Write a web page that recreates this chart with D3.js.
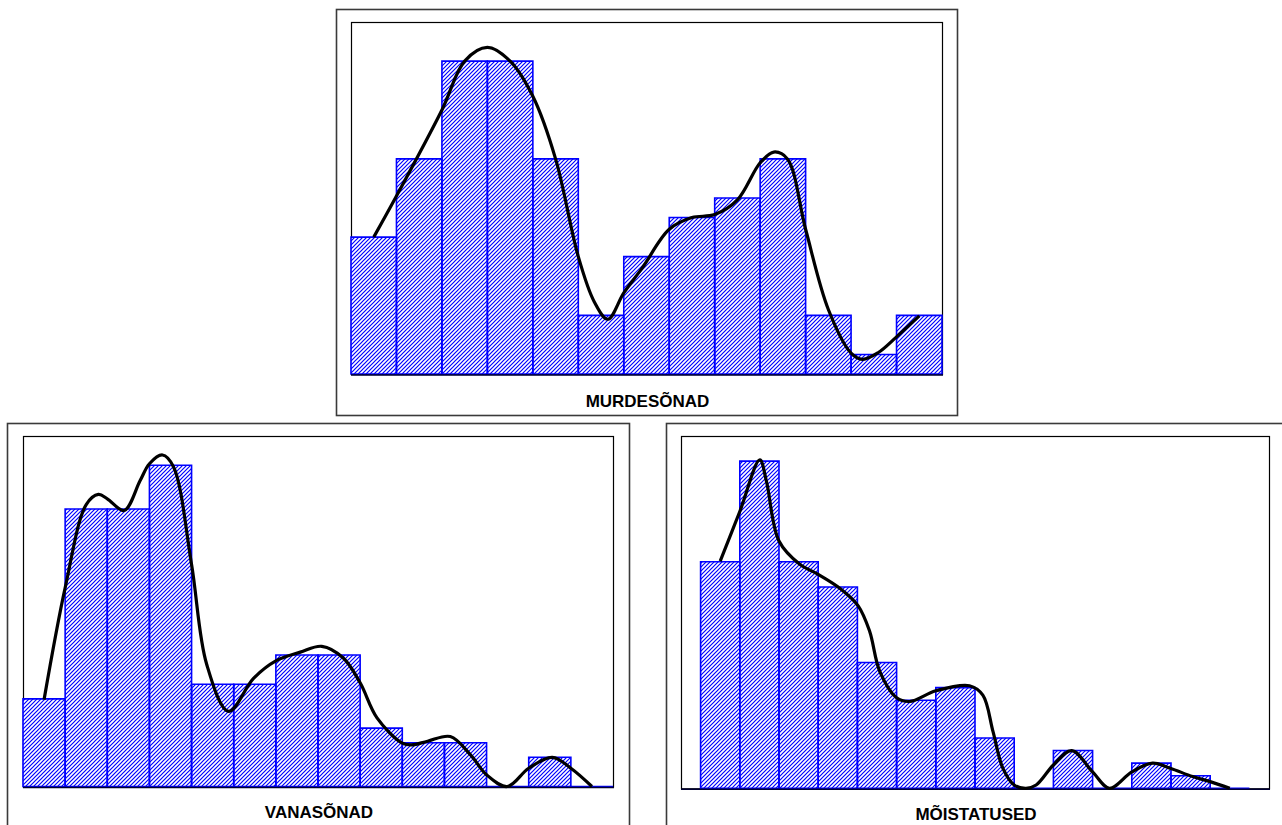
<!DOCTYPE html>
<html>
<head>
<meta charset="utf-8">
<script src="https://cdn.jsdelivr.net/npm/d3@7"></script>
<style>
  html, body { margin: 0; padding: 0; background: #fff; }
  svg { display: block; }
</style>
</head>
<body>
<svg id="chart" width="1282" height="825"></svg>
<script>
// ---------- DATA ----------
// MURDESÕNAD: 13 bins
const murdeCounts = [7, 11, 16, 16, 11, 3, 6, 8, 9, 11, 3, 1, 3];
const murdeCurveX = [0.5, 1.0, 2.0, 2.5, 3.0, 3.5, 4.0, 4.5, 5.0, 5.35, 5.65, 6.0, 6.4, 7.0, 7.5, 8.0, 8.5, 9.0, 9.3, 9.6, 10.0, 10.5, 11.0, 11.25, 11.6, 12.0, 12.5];
const murdeCurveY = [7.0, 9.1, 13.5, 16.0, 16.7, 16.0, 14.2, 11.0, 6.0, 3.7, 2.8, 4.15, 5.4, 7.4, 8.0, 8.15, 8.9, 10.8, 11.35, 11.0, 7.4, 3.3, 1.07, 0.75, 1.1, 1.9, 2.97];

// VANASÕNAD: 14 bins
const vanaCounts = [6, 19, 19, 22, 7, 7, 9, 9, 4, 3, 3, 0, 2, 0];
const vanaCurveX = [0.5, 1.0, 1.5, 1.79, 2.0, 2.4, 2.78, 3.0, 3.31, 3.57, 4.0, 4.36, 4.88, 5.47, 6.0, 6.58, 7.09, 7.6, 8.0, 8.4, 9.0, 9.23, 9.6, 10.14, 10.62, 11.0, 11.49, 12.0, 12.56, 13.0, 13.5];
const vanaCurveY = [5.95, 13.6, 19.3, 20.0, 19.7, 18.9, 20.95, 22.1, 22.7, 21.9, 15.2, 8.35, 5.14, 7.4, 8.6, 9.2, 9.6, 8.8, 7.1, 4.7, 2.97, 2.85, 3.1, 3.42, 2.16, 0.8, 0.0, 1.25, 2.0, 1.25, 0.0];

// MÕISTATUSED: 14 bins
const moistCounts = [18, 26, 18, 16, 10, 7, 8, 4, 0, 3, 0, 2, 1, 0];
const moistCurveX = [0.5, 1.0, 1.51, 1.68, 2.0, 2.53, 3.0, 3.55, 4.02, 4.31, 4.57, 5.0, 5.33, 6.0, 6.86, 7.2, 7.46, 7.71, 8.0, 8.3, 8.56, 9.0, 9.47, 10.0, 10.43, 11.0, 11.53, 11.98, 12.55, 13.0, 13.5];
const moistCurveY = [18.05, 22.0, 26.1, 24.4, 19.65, 17.8, 17.0, 15.9, 14.5, 12.5, 9.3, 7.2, 6.9, 7.75, 8.15, 7.4, 4.5, 1.6, 0.26, 0.0, 0.26, 1.85, 3.0, 1.3, 0.0, 1.3, 2.0, 1.6, 0.93, 0.53, 0.0];

const titles = ["MURDESÕNAD", "VANASÕNAD", "MÕISTATUSED"];
const yMax = [18, 24, 28];

// ---------- LAYOUT ----------
const panels = [
  { title: titles[0], counts: murdeCounts, cx: murdeCurveX, cy: murdeCurveY, yMax: yMax[0],
    outer: [336, 9, 957, 415], inner: [351, 22, 942, 374], xDom: [0, 13], labelY: 407 },
  { title: titles[1], counts: vanaCounts, cx: vanaCurveX, cy: vanaCurveY, yMax: yMax[1],
    outer: [7, 423, 629, 900], inner: [23, 436, 613, 786.5], xDom: [0, 14], labelY: 818 },
  { title: titles[2], counts: moistCounts, cx: moistCurveX, cy: moistCurveY, yMax: yMax[2],
    outer: [666, 423, 1300, 900], inner: [681, 436, 1269, 788.3], xDom: [-0.5, 14.5], labelY: 820 }
];

const svg = d3.select("#chart");
const defs = svg.append("defs");

const pat = defs.append("pattern")
  .attr("id", "hatch")
  .attr("patternUnits", "userSpaceOnUse")
  .attr("width", 4).attr("height", 4);
pat.append("rect").attr("width", 4).attr("height", 4).style("fill", "#ffffff");
pat.append("path")
  .attr("d", "M0,4 L4,0 M-1,1 L1,-1 M3,5 L5,3")
  .style("stroke", "#0000ff").style("stroke-width", 1.2).style("fill", "none");

panels.forEach(p => {
  const g = svg.append("g");
  const [ox0, oy0, ox1, oy1] = p.outer;
  const [ix0, iy0, ix1, iy1] = p.inner;

  g.append("rect")
    .attr("x", ox0 + 0.5).attr("y", oy0 + 0.5)
    .attr("width", ox1 - ox0).attr("height", oy1 - oy0)
    .attr("fill", "none").attr("stroke", "#3a3a3a").attr("stroke-width", 1.6);

  g.append("rect")
    .attr("x", ix0 + 0.5).attr("y", iy0 + 0.5)
    .attr("width", ix1 - ix0).attr("height", iy1 - iy0)
    .attr("fill", "none").attr("stroke", "#000").attr("stroke-width", 1.2);

  const x = d3.scaleLinear().domain(p.xDom).range([ix0, ix1]);
  const y = d3.scaleLinear().domain([0, p.yMax]).range([iy1, iy0]);

  const bins = p.counts.map((c, i) => ({ i, c }));

  g.selectAll("rect.bar").data(bins).join("rect")
    .attr("class", "bar")
    .attr("x", d => x(d.i))
    .attr("y", d => y(d.c))
    .attr("width", d => x(d.i + 1) - x(d.i))
    .attr("height", d => y(0) - y(d.c))
    .style("fill", "url(#hatch)");

  g.selectAll("path.barOutline").data(bins).join("path")
    .attr("class", "barOutline")
    .attr("d", d => `M${x(d.i)},${y(0)}V${y(d.c)}H${x(d.i + 1)}V${y(0)}Z`)
    .attr("fill", "none")
    .attr("stroke", "#0000ff")
    .attr("stroke-width", 1.6);

  g.append("line")
    .attr("x1", ix0).attr("x2", ix1 + 1)
    .attr("y1", iy1 + 1).attr("y2", iy1 + 1)
    .attr("stroke", "#000033").attr("stroke-width", 1.6);

  const pts = p.cx.map((v, k) => [v, p.cy[k]]);
  const line = d3.line()
    .x(d => x(d[0])).y(d => y(d[1]))
    .curve(d3.curveCatmullRom.alpha(0.5));
  g.append("path")
    .attr("d", line(pts))
    .attr("fill", "none")
    .attr("stroke", "#000")
    .attr("stroke-width", 3.2)
    .attr("stroke-linejoin", "round");

  g.append("text")
    .attr("x", (ix0 + ix1) / 2 + 1)
    .attr("y", p.labelY)
    .attr("text-anchor", "middle")
    .attr("font-family", "Liberation Sans, Arial, sans-serif")
    .attr("font-weight", "bold")
    .attr("font-size", 17)
    .attr("fill", "#000")
    .text(p.title);
});
</script>
</body>
</html>
